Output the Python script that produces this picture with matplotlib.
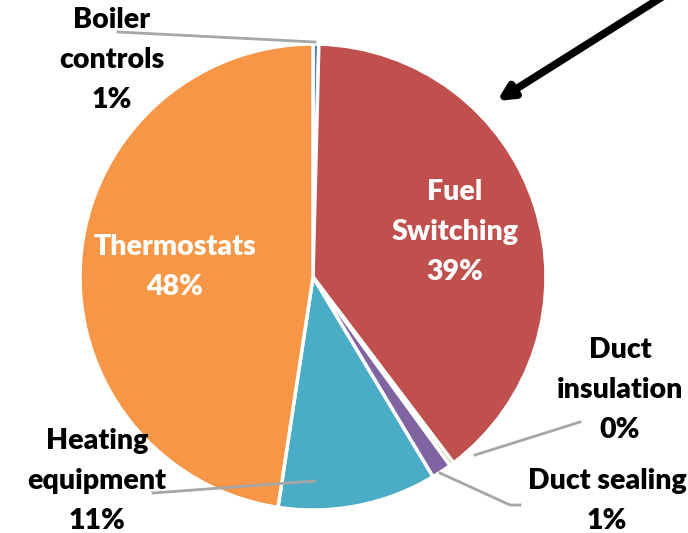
import numpy as np
import matplotlib.pyplot as plt

categories = ['Boiler controls', 'Fuel Switching', 'Duct insulation',
              'Duct sealing', 'Heating equipment', 'Thermostats']
shares = [0.4, 39.3, 0.3, 1.4, 11.0, 47.6]
pct_labels = ['1%', '39%', '0%', '1%', '11%', '48%']
colors = ['#4F81BD', '#C0504D', '#9BBB59', '#8064A2', '#4BACC6', '#F79646']

W, H = 688, 533
fig = plt.figure(figsize=(W / 100, H / 100), dpi=100)
ax = fig.add_axes([0, 0, 1, 1])

cx, cy, r = 313, H - 277, 233
ax.pie(shares, colors=colors, startangle=90, counterclock=False,
       center=(cx, cy), radius=r, frame=True,
       wedgeprops=dict(edgecolor='white', linewidth=2.5))
ax.set_xlim(0, W)
ax.set_ylim(0, H)
ax.set_aspect('equal')
ax.axis('off')

font = dict(family='Lato', fontweight='heavy', fontsize=20.5,
            ha='center', va='center', linespacing=1.68)

# label text and position (image pixel coords)
lab = {
    'Boiler controls': ('Boiler\ncontrols', 112, 60, 'black'),
    'Fuel Switching': ('Fuel\nSwitching', 455, 232, 'white'),
    'Duct insulation': ('Duct\ninsulation', 620, 390, 'black'),
    'Duct sealing': ('Duct sealing', 607, 501, 'black'),
    'Heating equipment': ('Heating\nequipment', 97, 481, 'black'),
    'Thermostats': ('Thermostats', 175, 267, 'white'),
}
for cat, pct in zip(categories, pct_labels):
    txt, x, y, c = lab[cat]
    ax.text(x, H - y, txt + '\n' + pct, color=c, **font)

# leader lines
leaders = [
    [(118, 32), (315, 42)],
    [(580, 422), (475, 455)],
    [(520, 505), (510, 505), (440, 473)],
    [(153, 493), (315, 481)],
]
for pts in leaders:
    xs = [p[0] for p in pts]
    ys = [H - p[1] for p in pts]
    ax.plot(xs, ys, color='#A6A6A6', linewidth=2)

# arrow pointing at fuel switching
ax.annotate('', xy=(497, H - 101), xytext=(662, H + 3),
            arrowprops=dict(arrowstyle='-|>,head_length=0.9,head_width=0.45',
                            color='black', linewidth=5.5, shrinkA=0, shrinkB=0),
            annotation_clip=False)

fig.savefig('out.png', dpi=100)
